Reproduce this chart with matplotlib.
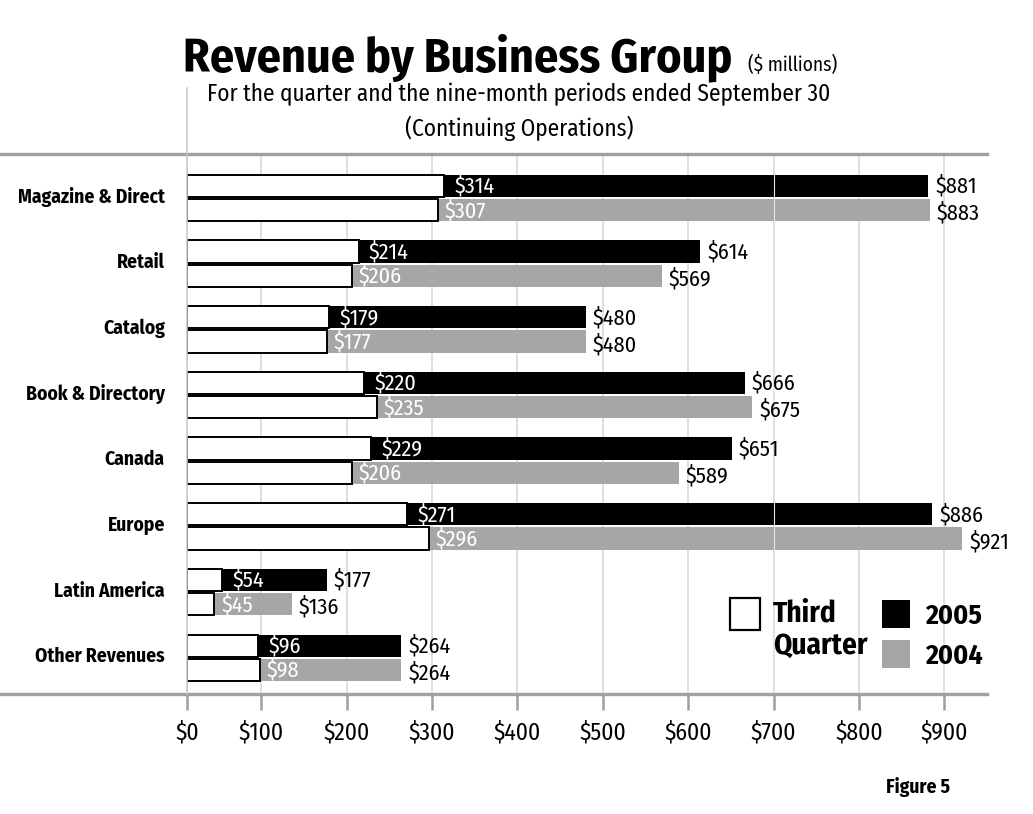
import matplotlib.pyplot as plt
from matplotlib.lines import Line2D
from matplotlib.patches import Rectangle

categories = ['Magazine & Direct', 'Retail', 'Catalog', 'Book & Directory',
              'Canada', 'Europe', 'Latin America', 'Other Revenues']
q3_2005 = [314, 214, 179, 220, 229, 271, 54, 96]
q3_2004 = [307, 206, 177, 235, 206, 296, 45, 98]
nine_2005 = [881, 614, 480, 666, 651, 886, 177, 264]
nine_2004 = [883, 569, 480, 675, 589, 921, 136, 264]
ticks = [0, 100, 200, 300, 400, 500, 600, 700, 800, 900]
tick_labels = ['$' + str(t) for t in ticks]

plt.rcParams['font.family'] = ['Fira Sans Condensed', 'DejaVu Sans']

BLACK = '#000000'
GRAY = '#a6a6a6'
LINE = '#a0a0a0'

# the printed axis starts a little right of zero
x_start = 13

fig = plt.figure(figsize=(10.33, 8.14), dpi=100)
ax = fig.add_axes([187 / 1033, 1 - 694 / 814, 800 / 1033, 540 / 814])

y = list(range(len(categories)))
y05 = [i - 0.185 for i in y]
y04 = [i + 0.185 for i in y]
h = 0.34

ax.barh(y05, [v - x_start for v in nine_2005], left=x_start, height=h, color=BLACK, zorder=2)
ax.barh(y04, [v - x_start for v in nine_2004], left=x_start, height=h, color=GRAY, zorder=2)
ax.barh(y05, [v - x_start for v in q3_2005], left=x_start, height=h, color='white',
        edgecolor='black', linewidth=1.4, zorder=3)
ax.barh(y04, [v - x_start for v in q3_2004], left=x_start, height=h, color='white',
        edgecolor='black', linewidth=1.4, zorder=3)

# faint line through the bars at $700, as in the print
ax.axvline(700, color='#e6e6e6', linewidth=0.8, zorder=4)

for i in y:
    ax.annotate('$%d' % q3_2005[i], (q3_2005[i], y05[i]), xytext=(7.5, 0), textcoords='offset points',
                va='center', ha='left', color='white', fontsize=16, zorder=5)
    ax.annotate('$%d' % q3_2004[i], (q3_2004[i], y04[i]), xytext=(5, 0), textcoords='offset points',
                va='center', ha='left', color='white', fontsize=16, zorder=5)
    ax.annotate('$%d' % nine_2005[i], (nine_2005[i], y05[i]), xytext=(5, 0), textcoords='offset points',
                va='center', ha='left', color='black', fontsize=16, zorder=5)
    ax.annotate('$%d' % nine_2004[i], (nine_2004[i], y04[i]), xytext=(5, -2), textcoords='offset points',
                va='center', ha='left', color='black', fontsize=16, zorder=5)

ax.set_xlim(x_start, 950)
ax.set_ylim(7.55, -0.67)
ax.set_yticks([i - 0.05 for i in y])
ax.set_yticklabels(categories, fontsize=14, fontweight='bold')
ax.tick_params(axis='y', length=0, pad=16)

ax.set_xticks([x_start] + ticks[1:])
ax.set_xticklabels(tick_labels, fontsize=17)
ax.tick_params(axis='x', direction='out', length=11.5, width=1.8, color=LINE, pad=8)

ax.grid(axis='x', color='#d9d9d9', linewidth=1.2, zorder=0)
ax.set_axisbelow(True)
for s in ax.spines.values():
    s.set_visible(False)

# rules across the page and the left axis line
fig.add_artist(Line2D([0, 987 / 1033], [1 - 154 / 814] * 2, color=LINE, linewidth=2.4))
fig.add_artist(Line2D([0, 987 / 1033], [1 - 694 / 814] * 2, color=LINE, linewidth=2.4))
fig.add_artist(Line2D([187 / 1033] * 2, [1 - 88 / 814, 1 - 694 / 814], color='#c8c8c8', linewidth=1.1))

# legend
W, H = 1033, 814
fig.add_artist(Rectangle((730 / W, 1 - 630 / H), 30 / W, 32 / H, facecolor='white',
                         edgecolor='black', linewidth=1.6))
fig.text(773 / W, 1 - 614 / H, 'Third', fontsize=21, fontweight='bold', va='center')
fig.text(773 / W, 1 - 646 / H, 'Quarter', fontsize=21, fontweight='bold', va='center')
fig.add_artist(Rectangle((882 / W, 1 - 628 / H), 28 / W, 28 / H, facecolor=BLACK, edgecolor='none'))
fig.add_artist(Rectangle((882 / W, 1 - 668 / H), 28 / W, 28 / H, facecolor=GRAY, edgecolor='none'))
fig.text(925 / W, 1 - 616 / H, '2005', fontsize=20, fontweight='bold', va='center')
fig.text(925 / W, 1 - 656 / H, '2004', fontsize=20, fontweight='bold', va='center')

# titles
fig.text(183 / W, 1 - 71 / H, 'Revenue by Business Group', fontsize=34.5, fontweight='bold',
         va='baseline', ha='left')
fig.text(748 / W, 1 - 71 / H, '($ millions)', fontsize=14, va='baseline', ha='left')
fig.text(519 / W, 1 - 94 / H, 'For the quarter and the nine-month periods ended September 30',
         fontsize=16.8, ha='center', va='center')
fig.text(519 / W, 1 - 128 / H, '(Continuing Operations)', fontsize=16.8, ha='center', va='center')
fig.text(950 / W, 1 - 787 / H, 'Figure 5', fontsize=14, fontweight='bold', ha='right', va='center')

fig.savefig('out.png', dpi=100)
